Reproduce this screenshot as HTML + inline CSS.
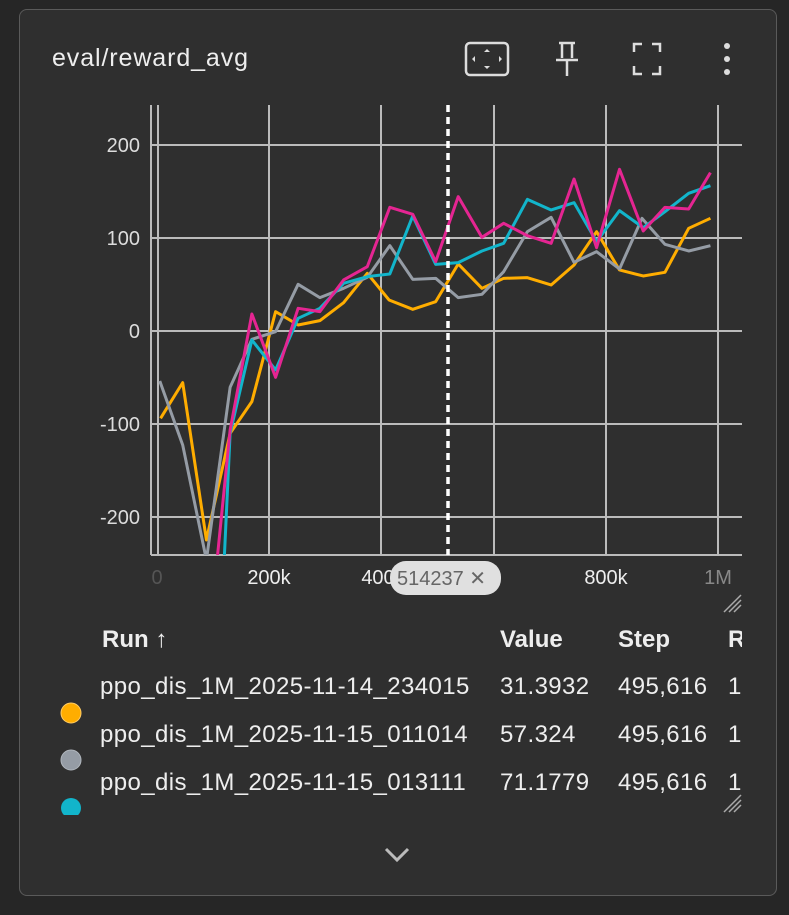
<!DOCTYPE html>
<html><head><meta charset="utf-8"><style>
body{margin:0;background:#262626;width:789px;height:915px;overflow:hidden;font-family:"Liberation Sans",sans-serif;}
.card{position:absolute;left:19px;top:9px;width:756px;height:885px;background:#2f2f2f;border:1.5px solid #5a5a5a;border-radius:8px;}
.t{position:absolute;color:#eee;white-space:nowrap;}
.r{font-size:24px;letter-spacing:0.4px;}
</style></head><body>
<div class="card"></div>
<div class="t" style="left:52px;top:44px;font-size:25px;letter-spacing:0.9px;">eval/reward_avg</div>
<svg width="789" height="915" style="position:absolute;left:0;top:0">
<g fill="none" stroke="#ddd" stroke-width="2.5">
<rect x="466" y="43" width="42" height="32" rx="4"/>
<path d="M487 49l-3 3h6z M487 69l-3-3h6z M472 59l3-3v6z M502 59l-3-3v6z" fill="#ddd" stroke="none"/>
<path d="M559 43h16 M562 43v15 M572 43v15 M556 60h22 M567 60v16"/>
<path d="M634 52v-8h8 M652 44h8v8 M660 66v8h-8 M642 74h-8v-8"/>
</g>
<circle cx="727" cy="46" r="3" fill="#ddd"/><circle cx="727" cy="59" r="3" fill="#ddd"/><circle cx="727" cy="72" r="3" fill="#ddd"/>
<defs><clipPath id="c"><rect x="151" y="105" width="592" height="450"/></clipPath></defs>
<g stroke="#bbb" stroke-width="2">
<line x1="151" y1="145" x2="742" y2="145"/><line x1="151" y1="238" x2="742" y2="238"/><line x1="151" y1="331" x2="742" y2="331"/><line x1="151" y1="424" x2="742" y2="424"/><line x1="151" y1="517" x2="742" y2="517"/>
<line x1="151" y1="555" x2="742" y2="555"/>
<line x1="151" y1="105" x2="151" y2="555"/><line x1="158" y1="105" x2="158" y2="555"/>
<line x1="269" y1="105" x2="269" y2="555"/><line x1="381" y1="105" x2="381" y2="555"/><line x1="494" y1="105" x2="494" y2="555"/><line x1="606" y1="105" x2="606" y2="555"/><line x1="718" y1="105" x2="718" y2="555"/>
</g>
<g clip-path="url(#c)"><g transform="translate(140,100) scale(0.3953,0.3333)" fill="none" stroke-width="3" stroke-linejoin="round">
<polyline vector-effect="non-scaling-stroke" stroke="#ffad00" points="52,955 108,848 168,1320 228,1000 283,905 343,635 400,675 455,662 515,608 575,520 630,600 690,628 748,605 805,492 865,565 920,535 980,533 1040,555 1098,495 1155,395 1213,510 1273,528 1328,517 1388,385 1443,355"/>
<polyline vector-effect="non-scaling-stroke" stroke="#959ca5" points="50,843 108,1035 168,1380 228,862 283,718 343,695 400,553 455,593 515,565 575,532 632,437 690,538 748,535 805,593 865,583 920,515 980,395 1040,352 1098,487 1155,455 1213,507 1270,355 1328,433 1388,453 1443,437"/>
<polyline vector-effect="non-scaling-stroke" stroke="#12b5cb" points="213,1380 228,1000 283,720 343,810 400,655 455,625 515,550 575,530 632,522 690,348 748,493 805,488 865,453 920,430 980,298 1040,330 1098,308 1155,425 1213,332 1273,383 1328,335 1388,280 1443,257"/>
<polyline vector-effect="non-scaling-stroke" stroke="#e52592" points="195,1380 228,990 283,642 343,832 400,625 455,635 515,540 575,500 632,322 690,343 748,485 805,290 865,412 920,370 980,407 1040,430 1098,237 1155,443 1213,208 1273,393 1328,322 1388,327 1443,218"/>
</g></g>
<line x1="448" y1="105" x2="448" y2="555" stroke="#fff" stroke-width="3.5" stroke-dasharray="7,5"/>
<g font-family="Liberation Sans" font-size="20" fill="#ddd" text-anchor="end">
<text x="140" y="152">200</text><text x="140" y="245">100</text><text x="140" y="338">0</text><text x="140" y="431">-100</text><text x="140" y="524">-200</text>
</g>
<g font-family="Liberation Sans" font-size="20" fill="#eee" text-anchor="middle">
<text x="157" y="584" fill="#555">0</text><text x="269" y="584">200k</text><text x="383" y="584">400k</text><text x="606" y="584">800k</text><text x="718" y="584" fill="#888">1M</text>
</g>
<rect x="390" y="561" width="111" height="34" rx="16" fill="#e0e0e0"/>
<text x="397" y="585" font-family="Liberation Sans" font-size="20" fill="#666">514237 ✕</text>
<g stroke="#aaa" stroke-width="1.5"><path d="M724 612l17-17 M729 612l12-12 M734 612l7-7"/><path d="M724 812l17-17 M729 812l12-12 M734 812l7-7"/></g>
<path d="M386 849l11 11 11-11" fill="none" stroke="#bbb" stroke-width="3"/>
<circle cx="71" cy="713" r="10" fill="#ffad00" stroke="#ffcc66" stroke-width="1"/>
<circle cx="71" cy="760" r="10" fill="#959ca5" stroke="#b0b6bd" stroke-width="1"/>
<clipPath id="d"><rect x="50" y="790" width="50" height="25"/></clipPath>
<circle cx="71" cy="808" r="10" fill="#12b5cb" clip-path="url(#d)"/>
</svg>
<div style="position:absolute;left:0;top:0;width:742px;height:915px;overflow:hidden;">
<div class="t r" style="left:102px;top:626px;font-weight:bold;letter-spacing:0;">Run ↑</div>
<div class="t r" style="left:500px;top:626px;font-weight:bold;letter-spacing:0;">Value</div>
<div class="t r" style="left:618px;top:626px;font-weight:bold;letter-spacing:0;">Step</div>
<div class="t r" style="left:728px;top:626px;font-weight:bold;">R</div>
<div class="t r" style="left:100px;top:673px;">ppo_dis_1M_2025-11-14_234015</div>
<div class="t r" style="left:500px;top:673px;">31.3932</div>
<div class="t r" style="left:618px;top:673px;">495,616</div>
<div class="t r" style="left:728px;top:673px;">17</div>
<div class="t r" style="left:100px;top:721px;">ppo_dis_1M_2025-11-15_011014</div>
<div class="t r" style="left:500px;top:721px;">57.324</div>
<div class="t r" style="left:618px;top:721px;">495,616</div>
<div class="t r" style="left:728px;top:721px;">10</div>
<div class="t r" style="left:100px;top:769px;">ppo_dis_1M_2025-11-15_013111</div>
<div class="t r" style="left:500px;top:769px;">71.1779</div>
<div class="t r" style="left:618px;top:769px;">495,616</div>
<div class="t r" style="left:728px;top:769px;">10</div>
</div>
</body></html>
